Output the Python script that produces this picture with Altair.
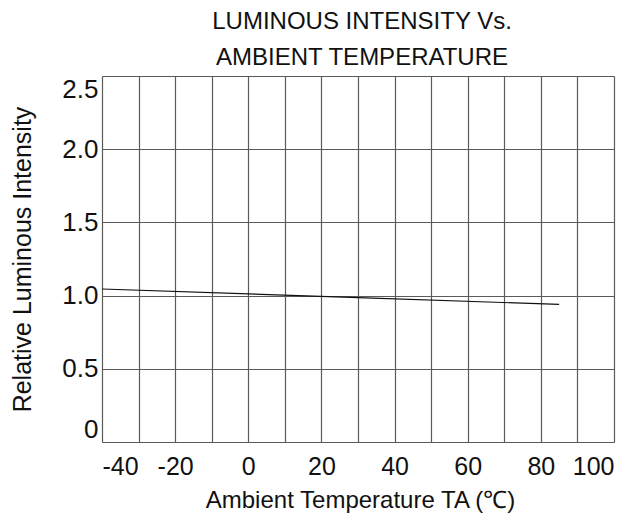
import altair as alt
import pandas as pd

temps = [-40, 30, 85]
intensity = [1.045, 0.986, 0.94]

x_grid = list(range(-40, 101, 10))
y_grid = [0, 0.5, 1.0, 1.5, 2.0, 2.5]

df = pd.DataFrame({"t": temps, "v": intensity})

FONT = "Liberation Sans"
GRID = "#5a5a5a"
INK = "#111111"

chart = (
    alt.Chart(df)
    .mark_line(color=INK, strokeWidth=1.2)
    .encode(
        x=alt.X(
            "t:Q",
            scale=alt.Scale(domain=[-40, 100], nice=False, zero=False),
            axis=alt.Axis(
                values=x_grid,
                labelExpr="datum.value % 20 == 0 ? '' + datum.value : ''",
                grid=True,
                gridColor=GRID,
                gridWidth=1.2,
                ticks=False,
                domain=False,
                labelFont=FONT,
                labelFontSize=25,
                labelColor=INK,
                labelPadding=12,
                title="Ambient Temperature TA (℃)",
                titleFont=FONT,
                titleFontSize=24,
                titleFontWeight="normal",
                titleColor=INK,
                titleX=258,
                titleY=58,
                titleBaseline="middle",
                titleAlign="center",
            ),
        ),
        y=alt.Y(
            "v:Q",
            scale=alt.Scale(domain=[0, 2.5], nice=False, zero=True),
            axis=alt.Axis(
                values=y_grid,
                labelExpr="datum.value == 0 ? '0' : format(datum.value, '.1f')",
                grid=True,
                gridColor=GRID,
                gridWidth=1.2,
                ticks=False,
                domain=False,
                labelFlush=True,
                labelFont=FONT,
                labelFontSize=26,
                labelColor=INK,
                labelPadding=4,
                title="Relative Luminous Intensity",
                titleFont=FONT,
                titleFontSize=25,
                titleFontWeight="normal",
                titleColor=INK,
                titleAngle=-90,
                titleX=-80,
                titleY=183,
                titleBaseline="middle",
                titleAlign="center",
            ),
        ),
    )
    .properties(
        width=512,
        height=366,
        title=alt.TitleParams(
            text=["LUMINOUS INTENSITY Vs.", "AMBIENT TEMPERATURE"],
            font=FONT,
            fontSize=24,
            fontWeight="normal",
            color=INK,
            anchor="middle",
            offset=6,
            lineHeight=36,
            dx=4,
        ),
        autosize=alt.AutoSizeParams(type="none"),
        padding={"left": 94, "top": 68, "right": 22, "bottom": 71},
    )
    .configure_view(stroke=GRID, strokeWidth=1.2)
    .configure(background="white")
)

chart.save("out.html", embed_options={"renderer": "svg", "actions": False})
